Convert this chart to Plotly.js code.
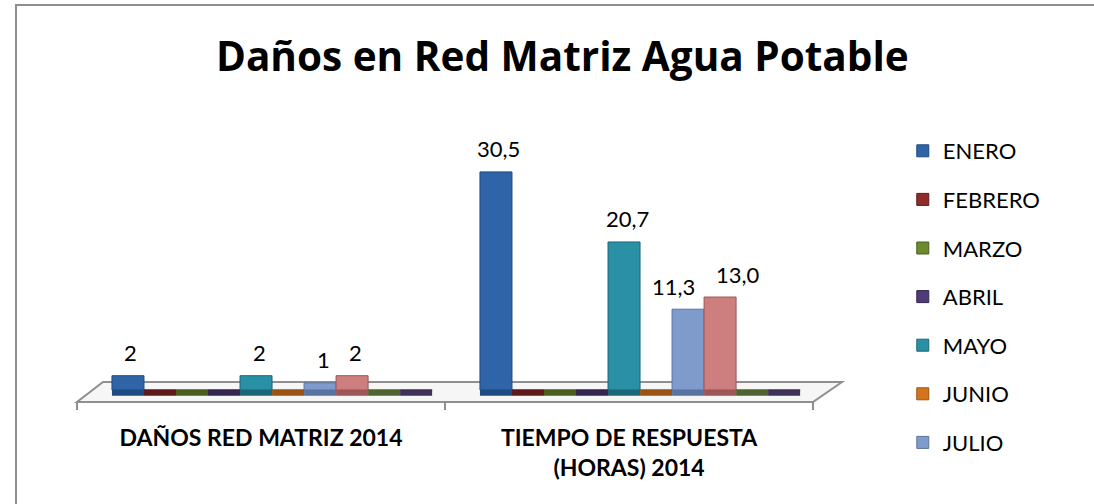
<!DOCTYPE html>
<html>
<head>
<meta charset="utf-8">
<script src="https://cdn.plot.ly/plotly-3.0.1.min.js"></script>
<style>
  html, body { margin:0; padding:0; background:#fff; overflow:hidden; }
  #chart { position:absolute; left:0; top:0; width:1094px; height:504px; }
  #frame { position:absolute; left:15px; top:4px; width:1200px; height:600px; border:2px solid #8e8e8e; pointer-events:none; }
</style>
</head>
<body>
<div id="chart"></div>
<div id="frame"></div>
<script>
// ---- data ----
var categories = ["DAÑOS RED MATRIZ 2014", "TIEMPO DE RESPUESTA<br>(HORAS) 2014"];
var months = ["ENERO","FEBRERO","MARZO","ABRIL","MAYO","JUNIO","JULIO","AGOSTO","SEPTIEMBRE","OCTUBRE"];
var danosRed2014 = [2, 0, 0, 0, 2, 0, 1, 2, 0, 0];
var tiempoRespuesta2014 = [30.5, 0, 0, 0, 20.7, 0, 11.3, 13.0, 0, 0];
var legendShown = [true, true, true, true, true, true, true, false, false, false];

// ---- styles ----
var colors = ["#2F64A8","#8E2B2B","#6E8A2E","#4F3B78","#2990A6","#D4751E","#7F9BCB","#CD7E7E","#77904A","#5C4E80"];
var lines  = ["#1F4A80","#5E1A1A","#4A5E1E","#33264F","#1B6677","#9A5314","#5A74A0","#9E5555","#506331","#3D3356"];
var slabDepth = 0.8;          // visual thickness of the 3D floor slab under each bar
var labelDx = { "1-6": -15, "1-7": 18 };   // nudges to keep neighbouring labels apart
var margin = { l: 77, r: 281, t: 40, b: 102 };
var bargap = 0.13;
var plotW = 1094 - margin.l - margin.r;
var plotH = 504 - margin.t - margin.b;
var barPitch = plotW / categories.length * (1 - bargap) / months.length;
var pxPerUnit = 7.15, yMin = -1.68;

function fmt(v, ci) {
  if (v === 0) return "";
  return ci === 0 ? String(v) : v.toFixed(1).replace(".", ",");
}

var seriesByMonth = months.map(function (m, i) { return [danosRed2014[i], tiempoRespuesta2014[i]]; });

// floor slabs (drawn first)
var slabTraces = months.map(function (m, i) {
  return {
    type: "bar", name: m + " base", x: categories,
    y: categories.map(function () { return slabDepth; }), base: -slabDepth,
    offsetgroup: m, marker: { color: lines[i], line: { width: 0 } },
    showlegend: false, hoverinfo: "skip"
  };
});

var dataTraces = months.map(function (m, i) {
  return {
    type: "bar", name: m, x: categories, y: seriesByMonth[i],
    offsetgroup: m,
    marker: { color: colors[i], line: { color: lines[i], width: 1 } },
    showlegend: legendShown[i], legendgroup: m,
    hoverinfo: "name+y"
  };
});

var annotations = [];
months.forEach(function (m, i) {
  seriesByMonth[i].forEach(function (v, ci) {
    var t = fmt(v, ci);
    if (!t) return;
    var dx = labelDx[ci + "-" + i] !== undefined ? labelDx[ci + "-" + i] : 3;
    annotations.push({
      x: categories[ci], y: v, xref: "x", yref: "y",
      text: t, showarrow: false, xanchor: "center", yanchor: "middle",
      xshift: (i - (months.length - 1) / 2) * barPitch + dx, yshift: 23,
      font: { family: "Lato", size: 22, color: "#000" }
    });
  });
});

function py(px) { return (504 - margin.b - px) / plotH; }   // pixel row -> paper y
var backY = py(382), tickY = py(410);
var floorShapes = [
  { type: "path", xref: "paper", yref: "paper", layer: "below",
    path: "M0,0 L1,0 L1.0394," + backY + " L0.0353," + backY + " Z",
    fillcolor: "#f6f6f6", line: { color: "#8f8f8f", width: 2 } },
  { type: "line", xref: "paper", yref: "paper", x0: 0, x1: 0, y0: 0, y1: tickY, line: { color: "#8f8f8f", width: 2 } },
  { type: "line", xref: "paper", yref: "paper", x0: 0.5, x1: 0.5, y0: 0, y1: tickY, line: { color: "#8f8f8f", width: 2 } },
  { type: "line", xref: "paper", yref: "paper", x0: 1, x1: 1, y0: 0, y1: tickY, line: { color: "#8f8f8f", width: 2 } }
];

var layout = {
  width: 1094, height: 504,
  paper_bgcolor: "rgba(0,0,0,0)", plot_bgcolor: "rgba(0,0,0,0)",
  margin: margin,
  title: {
    text: "Daños en Red Matriz Agua Potable",
    font: { family: "Open Sans", size: 40.5, color: "#000", weight: "bold" },
    xref: "container", x: 0.514, xanchor: "center",
    yref: "container", y: 0.887, yanchor: "middle"
  },
  barmode: "group", bargap: bargap, bargroupgap: 0,
  xaxis: {
    type: "category", range: [-0.53, 1.47],
    showgrid: false, zeroline: false, showline: false, ticks: "",
    tickfont: { family: "Lato", size: 23, color: "#000", weight: "bold" },
    ticklabelshift: -11, ticklabelstandoff: 20, tickangle: 0
  },
  yaxis: { range: [yMin, yMin + plotH / pxPerUnit], visible: false, fixedrange: true },
  legend: {
    x: 1.122, xanchor: "left", y: py(130), yanchor: "top",
    font: { family: "Lato", size: 22, color: "#000" },
    tracegroupgap: 17, bgcolor: "rgba(0,0,0,0)", maxheight: 1
  },
  annotations: annotations,
  shapes: floorShapes,
  font: { family: "Lato" }
};

Plotly.newPlot("chart", slabTraces.concat(dataTraces), layout, { displayModeBar: false, staticPlot: true });
</script>
</body>
</html>
